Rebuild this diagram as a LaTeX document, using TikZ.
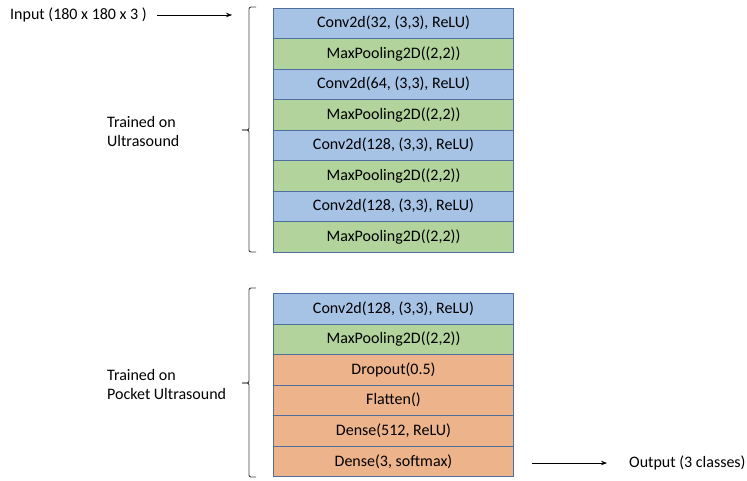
\documentclass[tikz,border=0pt]{standalone}
\usepackage{fontspec}
\setmainfont{Carlito}
\usetikzlibrary{arrows.meta}
\definecolor{cblue}{HTML}{A6C3E6}
\definecolor{cgreen}{HTML}{B2D39B}
\definecolor{corange}{HTML}{EDB38B}
\definecolor{cborder}{HTML}{4D6E9E}
\definecolor{cbrace}{HTML}{404040}
\begin{document}
\begin{tikzpicture}[x=1pt,y=-1pt,
  layer/.style={draw=cborder,line width=1pt,minimum width=240pt,minimum height=30.5pt,inner sep=0pt,font=\fontsize{16}{19}\selectfont,anchor=north west},
  conv/.style={layer,fill=cblue},
  pool/.style={layer,fill=cgreen},
  dense/.style={layer,fill=corange},
  lbl/.style={font=\fontsize{16}{19}\selectfont,inner sep=0pt},
  brace/.style={draw=cbrace,line width=0.9pt,rounded corners=2pt},
  arr/.style={draw=black,line width=0.7pt,-{Stealth[length=6pt,width=4.5pt]}}]
\useasboundingbox (0,0) rectangle (747,480);
% top stack
\node[conv] (c1) at (273,7.5) {Conv2d(32, (3,3), ReLU)};
\node[pool] (p1) at (273,38) {MaxPooling2D((2,2))};
\node[conv] (c2) at (273,68.5) {Conv2d(64, (3,3), ReLU)};
\node[pool] (p2) at (273,99) {MaxPooling2D((2,2))};
\node[conv] (c3) at (273,129.5) {Conv2d(128, (3,3), ReLU)};
\node[pool] (p3) at (273,160) {MaxPooling2D((2,2))};
\node[conv] (c4) at (273,190.5) {Conv2d(128, (3,3), ReLU)};
\node[pool] (p4) at (273,221) {MaxPooling2D((2,2))};
% bottom stack
\node[conv] (c5) at (273,293) {Conv2d(128, (3,3), ReLU)};
\node[pool] (p5) at (273,323.5) {MaxPooling2D((2,2))};
\node[dense] (d1) at (273,354) {Dropout(0.5)};
\node[dense] (d2) at (273,384.5) {Flatten()};
\node[dense] (d3) at (273,415) {Dense(512, ReLU)};
\node[dense] (d4) at (273,445.5) {Dense(3, softmax)};
% braces
\draw[brace] (256,7) -- (249,7) -- (249,130) -- (242,130);
\draw[brace] (242,130) -- (249,130) -- (249,252) -- (256,252);
\draw[brace] (256,288) -- (249,288) -- (249,383) -- (242,383);
\draw[brace] (242,383) -- (249,383) -- (249,477) -- (256,477);
% labels
\node[lbl,anchor=west,align=left] (t1) at (107,131.5) {Trained on\\Ultrasound};
\node[lbl,anchor=west,align=left] (t2) at (107,384.5) {Trained on\\Pocket Ultrasound};
\node[lbl,anchor=west] (inp) at (10,15) {Input (180 x 180 x 3 )};
\coordinate (inend) at (232,15);
\draw[arr] (157,15) -- (inend);
\node[lbl,anchor=west] (out) at (629,463) {Output (3 classes)};
\coordinate (outstart) at (532,463);
\draw[arr] (outstart) -- (607,463);
\end{tikzpicture}
\end{document}
